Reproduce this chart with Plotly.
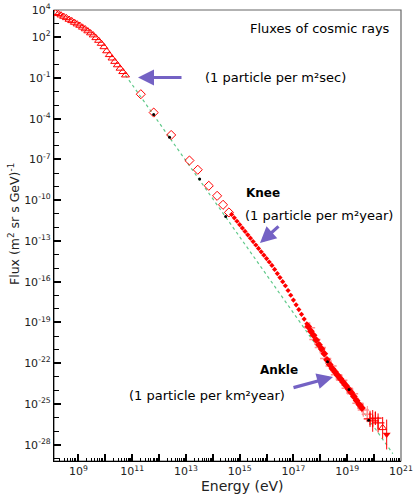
import numpy as np
import plotly.graph_objects as go

# ---------------- data (log10 of energy in eV, log10 of flux) ----------------
tri_logE = [8.15, 8.25, 8.35, 8.45, 8.55, 8.65, 8.75, 8.85, 8.95, 9.05, 9.15, 9.25, 9.35,
            9.45, 9.55, 9.65, 9.75, 9.85, 9.95, 10.05, 10.15, 10.25, 10.35, 10.45, 10.55, 10.65, 10.75]
tri_logF = [3.8, 3.72, 3.62, 3.52, 3.42, 3.3, 3.2, 3.08, 2.96, 2.86, 2.72, 2.6, 2.45,
            2.3, 2.15, 1.95, 1.75, 1.53, 1.28, 0.98, 0.7, 0.45, 0.2, -0.05, -0.3, -0.55, -0.8]

dia_logE = [11.32, 11.8, 12.45, 13.13, 13.44, 13.85, 14.16, 14.38, 14.6]
dia_logF = [-2.2, -3.55, -5.2, -7.08, -7.76, -8.94, -9.68, -10.34, -10.9]

knee_logE = [14.7, 14.8, 14.9, 15.0, 15.1, 15.2, 15.3, 15.4, 15.5, 15.6, 15.7, 15.8, 15.9, 16.0,
             16.1, 16.2, 16.3, 16.4, 16.5, 16.6, 16.7, 16.8, 16.9, 17.0, 17.1, 17.2, 17.3, 17.4, 17.5]
knee_logF = [-11.05, -11.3, -11.55, -11.8, -12.05, -12.3, -12.55, -12.8, -13.05, -13.3, -13.55, -13.8,
             -14.05, -14.3, -14.55, -14.8, -15.1, -15.4, -15.7, -16.0, -16.3, -16.65, -17.0, -17.35,
             -17.7, -18.05, -18.4, -18.75, -19.1]

denseA_logE = [17.55, 17.65, 17.75, 17.85, 17.95, 18.05, 18.15, 18.25, 18.35, 18.45, 18.55, 18.65,
               18.75, 18.85, 18.95, 19.05, 19.15, 19.25, 19.35, 19.45, 19.55]
denseA_logF = [-19.3, -19.65, -19.95, -20.3, -20.65, -20.95, -21.3, -21.75, -22.1, -22.4, -22.65, -22.9,
               -23.15, -23.4, -23.65, -23.9, -24.15, -24.45, -24.75, -25.05, -25.3]
denseA_err = [0.05, 0.05, 0.05, 0.06, 0.06, 0.07, 0.08, 0.08, 0.1, 0.1, 0.12, 0.12,
              0.14, 0.15, 0.16, 0.18, 0.2, 0.22, 0.25, 0.3, 0.35]

denseB_logE = [17.6, 17.8, 18.0, 18.2, 18.4, 18.6, 18.8, 19.0, 19.2, 19.4, 19.6, 19.75]
denseB_logF = [-19.4, -20.25, -20.85, -21.65, -22.2, -22.85, -23.25, -23.85, -24.25, -24.95, -25.45, -25.75]
denseB_err = [0.1, 0.1, 0.15, 0.15, 0.2, 0.2, 0.25, 0.3, 0.35, 0.4, 0.5, 0.6]

tail_logE = [19.85, 19.95, 20.05, 20.15]
tail_logF = [-26.1, -26.25, -26.05, -26.4]
tail_err = [0.6, 0.8, 0.5, 0.7]

otri_logE = [20.32]
otri_logF = [-26.76]
otri_err = [0.8]

dtri_logE = [20.47]
dtri_logF = [-27.25]
dtri_err = [1.1]

black_logE = [11.8, 12.39, 13.51, 14.48, 18.27, 19.07, 19.8]
black_logF = [-3.7, -5.36, -8.45, -11.2, -21.9, -23.94, -26.2]

fit_logE = [10.75, 20.7]
fit_logF = [-0.8, -28.66]

xtick_exp = list(range(9, 22))
ytick_exp = [4, 2, -1, -4, -7, -10, -13, -16, -19, -22, -25, -28]

# ---------------- helpers ----------------
def P(v):
    return np.power(10.0, np.array(v, dtype=float))

def errs(logF, e):
    lf = np.array(logF, dtype=float)
    ee = np.array(e, dtype=float)
    return P(lf + ee) - P(lf), P(lf) - P(lf - ee)

RED = "#ff0000"
LRED = "#ff9090"
PURPLE = "#7462c4"
FONT = "DejaVu Sans"

fig = go.Figure()

# fit line
fig.add_trace(go.Scatter(x=P(fit_logE), y=P(fit_logF), mode="lines",
                         line=dict(color="#5fc98a", width=1.2, dash="dot")))

fig.add_trace(go.Scatter(x=P(tri_logE), y=P(tri_logF), mode="markers",
                         marker=dict(symbol="triangle-up-open", size=7, color=RED, line=dict(width=1))))

fig.add_trace(go.Scatter(x=P(dia_logE), y=P(dia_logF), mode="markers",
                         marker=dict(symbol="diamond-open", size=7, color=RED, line=dict(width=1))))

fig.add_trace(go.Scatter(x=P(knee_logE), y=P(knee_logF), mode="markers",
                         marker=dict(symbol="diamond", size=4, color=RED)))

up, dn = errs(denseB_logF, denseB_err)
fig.add_trace(go.Scatter(x=P(denseB_logE), y=P(denseB_logF), mode="markers",
                         marker=dict(symbol="cross-thin-open", size=8, color=LRED, line=dict(width=1.5, color=LRED)),
                         error_y=dict(type="data", array=up, arrayminus=dn, color=LRED, thickness=1, width=0)))

up, dn = errs(denseA_logF, denseA_err)
fig.add_trace(go.Scatter(x=P(denseA_logE), y=P(denseA_logF), mode="markers",
                         marker=dict(symbol="diamond", size=6, color=RED),
                         error_y=dict(type="data", array=up, arrayminus=dn, color=LRED, thickness=1, width=0)))

up, dn = errs(tail_logF, tail_err)
fig.add_trace(go.Scatter(x=P(tail_logE), y=P(tail_logF), mode="markers",
                         marker=dict(symbol="cross-thin-open", size=9, color=RED, line=dict(width=1.2, color=RED)),
                         error_y=dict(type="data", array=up, arrayminus=dn, color=RED, thickness=1, width=0)))

up, dn = errs(otri_logF, otri_err)
fig.add_trace(go.Scatter(x=P(otri_logE), y=P(otri_logF), mode="markers",
                         marker=dict(symbol="triangle-up-open", size=7, color=RED, line=dict(width=1)),
                         error_y=dict(type="data", array=up, arrayminus=dn, color=RED, thickness=1, width=0)))

up, dn = errs(dtri_logF, dtri_err)
fig.add_trace(go.Scatter(x=P(dtri_logE), y=P(dtri_logF), mode="markers",
                         marker=dict(symbol="triangle-down", size=7, color=RED),
                         error_y=dict(type="data", array=up, arrayminus=dn, color=RED, thickness=1, width=0)))

fig.add_trace(go.Scatter(x=P(black_logE), y=P(black_logF), mode="markers",
                         marker=dict(symbol="circle", size=3, color="black")))

# ---------------- axes ----------------
xminor = [m * 10.0 ** k for k in range(8, 21) for m in range(2, 10)]
yminor = [10.0 ** k for k in range(-29, 5)]

fig.update_xaxes(
    type="log", range=[8.09, 21.003],
    tickvals=[10.0 ** k for k in xtick_exp],
    ticktext=[("10<sup>%d</sup>" % k) if k % 2 == 1 else "" for k in xtick_exp],
    ticks="inside", ticklen=7, tickwidth=1.5, tickcolor="black",
    minor=dict(tickvals=xminor, ticks="inside", ticklen=3, tickwidth=1, tickcolor="black"),
    showline=True, linecolor="black", linewidth=1.2, mirror=False,
    showgrid=False, zeroline=False,
    tickfont=dict(family=FONT, size=11, color="#222"),
)
fig.update_yaxes(
    type="log", range=[-29.2, 4.0],
    tickvals=[10.0 ** k for k in ytick_exp],
    ticktext=["10<sup>%d</sup>" % k for k in ytick_exp],
    ticks="inside", ticklen=7, tickwidth=1.5, tickcolor="black",
    minor=dict(tickvals=yminor, ticks="inside", ticklen=5, tickwidth=1.2, tickcolor="black"),
    showline=True, linecolor="black", linewidth=1.2, mirror=False,
    showgrid=False, zeroline=False,
    tickfont=dict(family=FONT, size=11, color="#222"),
)

# ---------------- annotations ----------------
L, R, T, B = 54, 401, 10, 461
def px(x):
    return (x - L) / (R - L)
def py(y):
    return (B - y) / (B - T)

anns = [
    dict(text="Fluxes of cosmic rays", x=px(392), y=py(28), xanchor="right", size=13),
    dict(text="(1 particle per m²sec)", x=px(203), y=py(77), xanchor="left", size=13),
    dict(text="<b>Knee</b>", x=px(263), y=py(193), xanchor="center", size=12),
    dict(text="(1 particle per m²year)", x=px(243), y=py(215), xanchor="left", size=13),
    dict(text="<b>Ankle</b>", x=px(279), y=py(370), xanchor="center", size=12),
    dict(text="(1 particle per km²year)", x=px(127), y=py(395), xanchor="left", size=13),
]
annotations = []
for a in anns:
    annotations.append(dict(text=a["text"], x=a["x"], y=a["y"], xref="paper", yref="paper",
                            xanchor=a["xanchor"], yanchor="middle", showarrow=False,
                            font=dict(family=FONT, size=a["size"], color="black")))

# axis titles
annotations.append(dict(text="Energy (eV)", x=px(242.5), y=py(486), xref="paper", yref="paper",
                        xanchor="center", yanchor="middle", showarrow=False,
                        font=dict(family=FONT, size=14, color="#222")))
annotations.append(dict(text="Flux (m<sup>2</sup> sr s GeV)<sup>-1</sup>", x=px(14), y=py(224),
                        xref="paper", yref="paper", xanchor="center", yanchor="middle",
                        textangle=-90, showarrow=False,
                        font=dict(family=FONT, size=12.5, color="#222")))

arrows = [((138, 77.5), (183, 77.5)), ((260, 243), (280, 225)), ((333, 377), (292, 388))]
for (tip, tail) in arrows:
    annotations.append(dict(x=px(tip[0]), y=py(tip[1]), xref="paper", yref="paper", text="",
                            showarrow=True, ax=tail[0] - tip[0], ay=tail[1] - tip[1],
                            arrowhead=2, arrowsize=1.0, arrowwidth=3.2, arrowcolor=PURPLE))

fig.update_layout(
    width=414, height=494,
    margin=dict(l=L, r=414 - R, t=T, b=494 - B, autoexpand=False),
    paper_bgcolor="white", plot_bgcolor="white",
    showlegend=False,
    annotations=annotations,
    shapes=[dict(type="rect", xref="paper", yref="paper", x0=0, y0=0, x1=1, y1=1,
                 line=dict(color="#666", width=1.2), layer="below")],
)

fig.write_html("out.html", config={"displayModeBar": False},
               post_script="document.body.style.margin='0';document.body.style.padding='0';")
